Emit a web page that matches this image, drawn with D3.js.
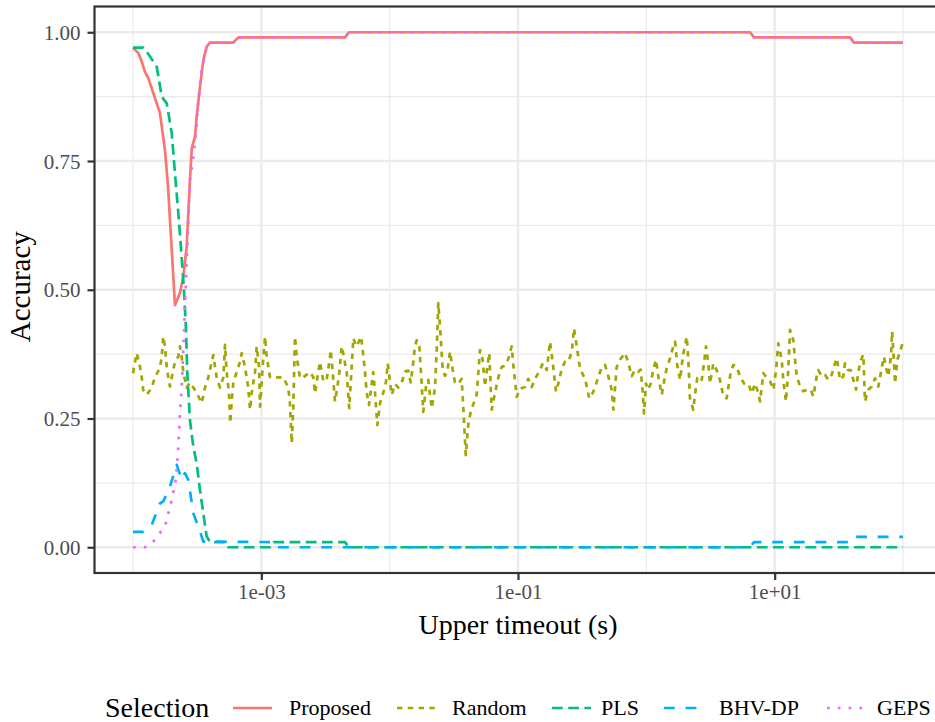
<!DOCTYPE html>
<html><head><meta charset="utf-8">
<script src="https://cdn.jsdelivr.net/npm/d3@7"></script>
<style>body{margin:0;background:#fff}</style>
</head><body><svg id="c" width="935" height="722"></svg>
<script>
// ---- data ----
const selections = ["Proposed", "Random", "PLS", "BHV-DP", "GEPS"];
const colors = ["#F8766D", "#A3A500", "#00BF7D", "#00B0F6", "#E76BF3"];
// points: [log10(upper timeout in s), accuracy]
const proposed = [[-4.000,.97],[-3.959,.96],[-3.932,.943],[-3.907,.923],[-3.881,.911],[-3.842,.882],[-3.790,.843],[-3.751,.771],[-3.727,.70],[-3.673,.47],[-3.634,.494],[-3.608,.525],[-3.582,.584],[-3.556,.714],[-3.542,.775],[-3.517,.797],[-3.504,.836],[-3.478,.894],[-3.452,.946],[-3.426,.972],[-3.400,.98],[-3.218,.98],[-3.179,.99],[-2.348,.99],[-2.317,1.00],[0.808,1.00],[0.839,.99],[1.587,.99],[1.618,.98],[2.000,.98]];
const random = [[-4.000,.338],[-3.971,.377],[-3.945,.35],[-3.932,.33],[-3.920,.305],[-3.893,.296],[-3.854,.31],[-3.829,.33],[-3.790,.348],[-3.776,.37],[-3.764,.409],[-3.751,.39],[-3.737,.35],[-3.725,.33],[-3.712,.312],[-3.698,.33],[-3.673,.36],[-3.647,.37],[-3.634,.39],[-3.621,.37],[-3.608,.34],[-3.595,.325],[-3.582,.31],[-3.556,.32],[-3.530,.31],[-3.504,.30],[-3.465,.28],[-3.439,.31],[-3.413,.33],[-3.387,.36],[-3.374,.373],[-3.348,.33],[-3.322,.31],[-3.296,.33],[-3.283,.393],[-3.270,.34],[-3.252,.30],[-3.242,.241],[-3.229,.29],[-3.218,.32],[-3.192,.34],[-3.166,.36],[-3.153,.377],[-3.127,.35],[-3.102,.31],[-3.088,.267],[-3.075,.30],[-3.049,.34],[-3.036,.39],[-3.018,.35],[-3.010,.273],[-2.987,.36],[-2.971,.409],[-2.958,.37],[-2.932,.33],[-2.880,.33],[-2.829,.33],[-2.790,.31],[-2.777,.28],[-2.763,.202],[-2.751,.27],[-2.738,.409],[-2.724,.37],[-2.699,.328],
[-2.673,.33],[-2.621,.34],[-2.595,.33],[-2.582,.299],[-2.556,.341],[-2.543,.36],[-2.530,.341],[-2.517,.322],[-2.491,.325],[-2.470,.36],[-2.459,.383],[-2.444,.34],[-2.426,.283],[-2.408,.31],[-2.392,.34],[-2.374,.39],[-2.361,.375],[-2.335,.34],[-2.315,.27],[-2.296,.35],[-2.283,.406],[-2.262,.39],[-2.244,.397],[-2.223,.409],[-2.210,.383],[-2.192,.34],[-2.179,.30],[-2.161,.276],[-2.140,.317],[-2.128,.34],[-2.114,.30],[-2.096,.237],[-2.075,.28],[-2.050,.30],[-2.029,.32],[-2.015,.357],[-1.997,.32],[-1.984,.296],[-1.958,.317],[-1.933,.31],[-1.906,.32],[-1.880,.341],[-1.855,.343],[-1.836,.32],[-1.816,.36],[-1.803,.39],[-1.789,.402],[-1.769,.39],[-1.756,.34],[-1.738,.263],[-1.717,.312],[-1.699,.325],[-1.686,.296],[-1.672,.27],[-1.647,.31],[-1.633,.385],[-1.621,.474],[-1.608,.43],[-1.587,.345],[-1.569,.333],[-1.551,.34],[-1.530,.38],[-1.509,.345],[-1.491,.32],[-1.465,.317],[-1.439,.327],[-1.426,.27],[-1.407,.179],[-1.387,.24],[-1.369,.262],[-1.348,.278],[-1.322,.296],[-1.296,.383],[-1.275,.364],[-1.257,.312],[-1.239,.35],[-1.224,.377],[-1.205,.267],[-1.179,.30],[-1.153,.33],[-1.127,.35],[-1.101,.353],[-1.075,.366],[-1.049,.39],[-1.031,.34],[-1.010,.292],[-0.984,.308],[-0.945,.311],[-0.920,.327],[-0.893,.311],[-0.867,.327],[-0.829,.344],[-0.807,.357],[-0.776,.344],[-0.751,.399],[-0.730,.36],[-0.704,.302],[-0.678,.325],[-0.659,.347],[-0.634,.36],[-0.608,.36],[-0.581,.38],[-0.564,.425],[-0.542,.39],[-0.517,.347],[-0.478,.327],[-0.444,.289],[-0.413,.302],[-0.374,.33],[-0.348,.35],[-0.322,.354],[-0.296,.332],[-0.270,.306],[-0.257,.267],[-0.231,.35],[-0.205,.364],
[-0.166,.377],[-0.140,.358],[-0.114,.332],[-0.088,.345],[-0.062,.341],[-0.044,.345],[-0.028,.30],[-0.018,.26],[-0.003,.318],[0.015,.306],[0.034,.318],[0.054,.345],[0.075,.364],[0.093,.332],[0.120,.296],[0.140,.325],[0.159,.348],[0.185,.367],[0.210,.39],[0.224,.399],[0.241,.354],[0.263,.325],[0.284,.37],[0.301,.392],[0.315,.409],[0.327,.364],[0.340,.289],[0.366,.267],[0.379,.296],[0.397,.329],[0.418,.332],[0.432,.325],[0.449,.357],[0.465,.39],[0.483,.357],[0.496,.318],[0.522,.357],[0.548,.344],[0.574,.325],[0.600,.293],[0.626,.289],[0.658,.341],[0.678,.354],[0.704,.351],[0.730,.332],[0.761,.318],[0.795,.318],[0.821,.299],[0.847,.318],[0.873,.299],[0.886,.283],[0.912,.338],[0.938,.329],[0.964,.322],[0.990,.306],[1.011,.344],[1.028,.396],[1.055,.364],[1.067,.325],[1.088,.283],[1.106,.344],[1.120,.422],[1.145,.402],[1.159,.364],[1.172,.332],[1.198,.312],[1.223,.303],[1.254,.306],[1.281,.306],[1.301,.293],[1.328,.332],[1.340,.344],[1.367,.332],[1.392,.335],[1.418,.325],[1.445,.335],[1.470,.357],[1.484,.367],[1.496,.348],[1.509,.325],[1.535,.332],[1.548,.357],[1.572,.344],[1.593,.344],[1.613,.325],[1.634,.306],[1.652,.341],[1.673,.364],[1.691,.374],[1.704,.283],[1.730,.306],[1.756,.312],[1.782,.328],[1.808,.312],[1.834,.348],[1.852,.37],[1.868,.348],[1.886,.332],[1.907,.374],[1.915,.419],[1.925,.38],[1.938,.318],[1.956,.364],[1.977,.38],[2.000,.399]];
const pls = [[-4.000,.97],[-3.920,.97],[-3.881,.958],[-3.815,.933],[-3.776,.875],[-3.737,.862],[-3.698,.804],[-3.673,.726],[-3.647,.649],[-3.621,.564],[-3.600,.487],[-3.587,.422],[-3.577,.338],[-3.556,.247],[-3.530,.195],[-3.504,.163],[-3.478,.111],[-3.452,.066],[-3.426,.021],[-3.400,.01],[-3.283,.01],[-3.257,0],[-2.932,0],[-2.906,.01],[-2.348,.01],[-2.317,0],[2.000,0]];
const bhvdp = [[-4.000,.03],[-3.920,.03],[-3.854,.043],[-3.790,.085],[-3.764,.089],[-3.712,.118],[-3.659,.16],[-3.621,.131],[-3.595,.144],[-3.569,.131],[-3.530,.066],[-3.491,.04],[-3.452,.011],[-2.932,.01],[-2.906,0],[0.808,0],[0.839,.01],[1.587,.01],[1.618,.02],[2.000,.02]];
const geps = [[-4.000,0],[-3.907,0],[-3.842,.011],[-3.803,.024],[-3.751,.04],[-3.698,.092],[-3.665,.134],[-3.647,.195],[-3.634,.26],[-3.621,.305],[-3.595,.467],[-3.582,.551],[-3.569,.629],[-3.556,.713],[-3.530,.758],[-3.504,.817],[-3.491,.869],[-3.465,.927],[-3.439,.959],[-3.413,.979],[-3.400,.98],[-3.218,.98],[-3.179,.99],[-2.348,.99],[-2.317,1.00],[0.808,1.00],[0.839,.99],[1.587,.99],[1.618,.98],[2.000,.98]];
const seriesData = [proposed, random, pls, bhvdp, geps];

const xMajor = [1e-3, 1e-1, 1e1];
const xMajorLabels = ["1e-03", "1e-01", "1e+01"];
const xMinor = [1e-4, 1e-2, 1e0, 1e2];
const yMajor = [0, 0.25, 0.5, 0.75, 1.0];
const yMajorLabels = ["0.00", "0.25", "0.50", "0.75", "1.00"];
const yMinor = [0.125, 0.375, 0.625, 0.875];

// ---- layout ----
const lw = 2.7;
const dashes = [null, `${2*lw},${2*lw}`, `${4*lw},${2*lw}`, `${4*lw},${4*lw}`, `${1*lw},${3*lw}`];
const P = {left: 94.5, right: 941.5, top: 6.5, bottom: 573};
const FONT = "'Liberation Serif', 'DejaVu Serif', serif";

const svg = d3.select("#c");
svg.append("rect").attr("width", 935).attr("height", 722).attr("fill", "#fff");

const x = d3.scaleLog().domain([Math.pow(10, -4.3), Math.pow(10, 2.3)]).range([P.left, P.right]);
const y = d3.scaleLinear().domain([-0.05, 1.05]).range([P.bottom, P.top]);

svg.append("defs").append("clipPath").attr("id", "clip")
  .append("rect").attr("x", P.left).attr("y", P.top)
  .attr("width", P.right - P.left).attr("height", P.bottom - P.top);

const grid = svg.append("g");
grid.selectAll(".xmin").data(xMinor).join("line")
  .attr("x1", d => x(d)).attr("x2", d => x(d)).attr("y1", P.top).attr("y2", P.bottom)
  .attr("stroke", "#EBEBEB").attr("stroke-width", 1.2);
grid.selectAll(".ymin").data(yMinor).join("line")
  .attr("y1", d => y(d)).attr("y2", d => y(d)).attr("x1", P.left).attr("x2", P.right)
  .attr("stroke", "#EBEBEB").attr("stroke-width", 1.2);
grid.selectAll(".xmaj").data(xMajor).join("line")
  .attr("x1", d => x(d)).attr("x2", d => x(d)).attr("y1", P.top).attr("y2", P.bottom)
  .attr("stroke", "#EBEBEB").attr("stroke-width", 2.4);
grid.selectAll(".ymaj").data(yMajor).join("line")
  .attr("y1", d => y(d)).attr("y2", d => y(d)).attr("x1", P.left).attr("x2", P.right)
  .attr("stroke", "#EBEBEB").attr("stroke-width", 2.4);

const line = d3.line().x(d => x(Math.pow(10, d[0]))).y(d => y(d[1]));
const lines = svg.append("g").attr("clip-path", "url(#clip)");
seriesData.forEach((s, i) => {
  lines.append("path").datum(s).attr("d", line)
    .attr("fill", "none").attr("stroke", colors[i]).attr("stroke-width", lw)
    .attr("stroke-linejoin", "round").attr("stroke-linecap", "butt")
    .attr("stroke-dasharray", dashes[i]);
});

// panel border
svg.append("rect").attr("x", P.left).attr("y", P.top)
  .attr("width", P.right - P.left).attr("height", P.bottom - P.top)
  .attr("fill", "none").attr("stroke", "#333333").attr("stroke-width", 2.2);

// axes
const xAxis = d3.axisBottom(x).tickValues(xMajor).tickSize(7).tickPadding(4)
  .tickFormat((d, i) => xMajorLabels[i]);
const gx = svg.append("g").attr("transform", `translate(0,${P.bottom})`).call(xAxis);
gx.select(".domain").remove();
gx.selectAll(".tick line").attr("stroke", "#333333").attr("stroke-width", 2.2);
gx.selectAll(".tick text").attr("fill", "#4D4D4D").attr("font-family", FONT)
  .attr("font-size", 21).attr("y", 11).attr("dy", "0.71em");

const yAxis = d3.axisLeft(y).tickValues(yMajor).tickSize(7).tickPadding(4)
  .tickFormat((d, i) => yMajorLabels[i]);
const gy = svg.append("g").attr("transform", `translate(${P.left},0)`).call(yAxis);
gy.select(".domain").remove();
gy.selectAll(".tick line").attr("stroke", "#333333").attr("stroke-width", 2.2);
gy.selectAll(".tick text").attr("fill", "#4D4D4D").attr("font-family", FONT)
  .attr("font-size", 21).attr("x", -14).attr("dy", "0.34em");

// axis titles
svg.append("text").attr("x", (P.left + P.right) / 2).attr("y", 634)
  .attr("text-anchor", "middle").attr("font-family", FONT).attr("font-size", 28)
  .attr("fill", "#000").text("Upper timeout (s)");
svg.append("text").attr("transform", `translate(30,${(P.top + P.bottom) / 2 - 3}) rotate(-90)`)
  .attr("text-anchor", "middle").attr("font-family", FONT).attr("font-size", 29)
  .attr("fill", "#000").text("Accuracy");

// legend
const legY = 708;
const leg = svg.append("g");
leg.append("text").attr("x", 105).attr("y", legY).attr("dy", "0.33em")
  .attr("font-family", FONT).attr("font-size", 28).attr("fill", "#000").text("Selection");
const keyX = [233, 397, 552, 664, 827];
const labelX = [289, 452, 601, 719, 877];
const keyLen = 39;
selections.forEach((name, i) => {
  leg.append("line").attr("x1", keyX[i]).attr("x2", keyX[i] + keyLen)
    .attr("y1", legY).attr("y2", legY)
    .attr("stroke", colors[i]).attr("stroke-width", lw)
    .attr("stroke-dasharray", dashes[i]);
  leg.append("text").attr("x", labelX[i]).attr("y", legY).attr("dy", "0.33em")
    .attr("font-family", FONT).attr("font-size", 22).attr("fill", "#000").text(name);
});
</script></body></html>
